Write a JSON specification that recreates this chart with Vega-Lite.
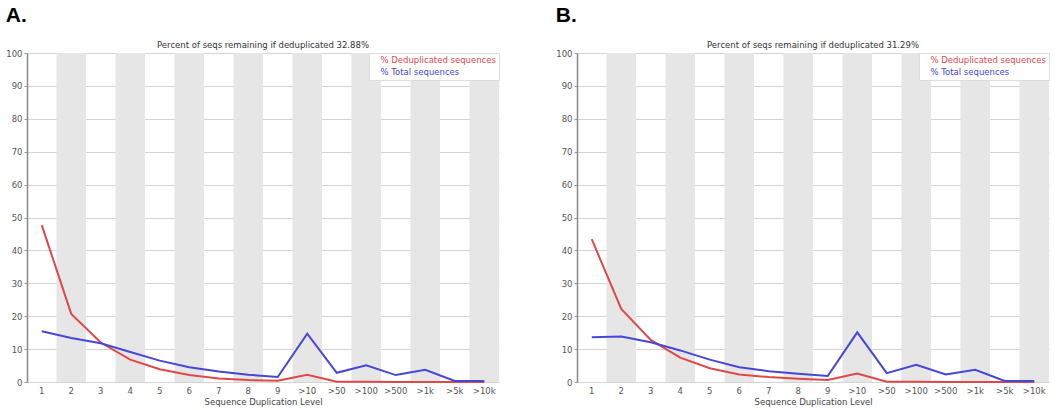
{
  "$schema": "https://vega.github.io/schema/vega-lite/v6.json",
  "background": "white",
  "padding": {"left": 5, "top": 4, "right": 5, "bottom": 2},
  "spacing": 55,
  "resolve": {"legend": {"color": "independent"}, "scale": {"color": "independent"}},
  "config": {
    "view": {"stroke": null},
    "font": "DejaVu Sans",
    "axisX": {"labelAngle": 0, "ticks": false, "domain": false, "labelPadding": 4, "labelColor": "#555", "labelFontSize": 8.5, "titleFontSize": 8.5, "titleFontWeight": "normal", "titlePadding": 3, "titleColor": "#444", "grid": false},
    "axisY": {"values": [0,10,20,30,40,50,60,70,80,90,100], "grid": true, "gridColor": "#d4d4d4", "domainColor": "#888", "domainWidth": 1.5, "tickSize": 3, "tickColor": "#999", "labelFontSize": 8.5, "labelColor": "#555", "labelPadding": 2, "title": null, "zindex": 1},
    "legend": {"orient": "top-right", "offset": 0, "fillColor": "white", "strokeColor": "#dddddd", "padding": 3, "labelFontSize": 8.5, "symbolSize": 0, "symbolStrokeWidth": 0, "symbolOpacity": 0, "labelOffset": 0, "rowPadding": 3, "title": null}
  },
  "hconcat": [
    {
      "title": {"text": "A.", "anchor": "start", "fontSize": 21, "font": "Liberation Sans", "fontWeight": "bold", "color": "black", "offset": 15},
      "resolve": {"legend": {"color": "independent"}, "scale": {"color": "independent"}},
      "hconcat": [
        {
          "width": 472,
          "height": 329,
          "title": {"text": "Percent of seqs remaining if deduplicated 32.88%", "fontSize": 8.5, "fontWeight": "normal", "color": "#333", "offset": 0, "anchor": "middle", "font": "DejaVu Sans"},
          "layer": [
            {
              "data": {"values": [{"level": "2"}, {"level": "4"}, {"level": "6"}, {"level": "8"}, {"level": ">10"}, {"level": ">100"}, {"level": ">1k"}, {"level": ">10k"}]},
              "mark": {"type": "bar", "color": "#e6e6e6"},
              "encoding": {
                "x": {"field": "level", "type": "ordinal", "sort": null, "scale": {"type": "band", "paddingInner": 0, "paddingOuter": 0, "domain": ["1","2","3","4","5","6","7","8","9",">10",">50",">100",">500",">1k",">5k",">10k"]}, "title": "Sequence Duplication Level"},
                "y": {"datum": 100, "type": "quantitative", "scale": {"domain": [0, 100], "nice": false}},
                "y2": {"datum": 0}
              }
            },
            {
              "data": {"values": [
                {"level": "1", "series": "% Deduplicated sequences", "value": 47.7},
                {"level": "2", "series": "% Deduplicated sequences", "value": 20.7},
                {"level": "3", "series": "% Deduplicated sequences", "value": 12.0},
                {"level": "4", "series": "% Deduplicated sequences", "value": 6.8},
                {"level": "5", "series": "% Deduplicated sequences", "value": 3.9},
                {"level": "6", "series": "% Deduplicated sequences", "value": 2.1},
                {"level": "7", "series": "% Deduplicated sequences", "value": 1.1},
                {"level": "8", "series": "% Deduplicated sequences", "value": 0.6},
                {"level": "9", "series": "% Deduplicated sequences", "value": 0.4},
                {"level": ">10", "series": "% Deduplicated sequences", "value": 2.2},
                {"level": ">50", "series": "% Deduplicated sequences", "value": 0.05},
                {"level": ">100", "series": "% Deduplicated sequences", "value": 0.05},
                {"level": ">500", "series": "% Deduplicated sequences", "value": 0.03},
                {"level": ">1k", "series": "% Deduplicated sequences", "value": 0.03},
                {"level": ">5k", "series": "% Deduplicated sequences", "value": 0.01},
                {"level": ">10k", "series": "% Deduplicated sequences", "value": 0.01},
                {"level": "1", "series": "% Total sequences", "value": 15.4},
                {"level": "2", "series": "% Total sequences", "value": 13.4},
                {"level": "3", "series": "% Total sequences", "value": 11.8},
                {"level": "4", "series": "% Total sequences", "value": 9.1},
                {"level": "5", "series": "% Total sequences", "value": 6.5},
                {"level": "6", "series": "% Total sequences", "value": 4.5},
                {"level": "7", "series": "% Total sequences", "value": 3.2},
                {"level": "8", "series": "% Total sequences", "value": 2.2},
                {"level": "9", "series": "% Total sequences", "value": 1.5},
                {"level": ">10", "series": "% Total sequences", "value": 14.7},
                {"level": ">50", "series": "% Total sequences", "value": 2.8},
                {"level": ">100", "series": "% Total sequences", "value": 5.1},
                {"level": ">500", "series": "% Total sequences", "value": 2.1},
                {"level": ">1k", "series": "% Total sequences", "value": 3.7},
                {"level": ">5k", "series": "% Total sequences", "value": 0.3},
                {"level": ">10k", "series": "% Total sequences", "value": 0.3}
              ]},
              "mark": {"type": "line", "strokeWidth": 2},
              "encoding": {
                "x": {"field": "level", "type": "ordinal", "sort": null},
                "y": {"field": "value", "type": "quantitative"},
                "color": {"field": "series", "type": "nominal", "scale": {"domain": ["% Deduplicated sequences", "% Total sequences"], "range": ["#e04848", "#4646d8"]},
                  "legend": {"encode": {"labels": {"update": {"fill": {"signal": "datum.value === '% Deduplicated sequences' ? '#e04848' : '#4646d8'"}}}}}}
              }
            }
          ]
        }
      ]
    },
    {
      "title": {"text": "B.", "anchor": "start", "fontSize": 21, "font": "Liberation Sans", "fontWeight": "bold", "color": "black", "offset": 15},
      "resolve": {"legend": {"color": "independent"}, "scale": {"color": "independent"}},
      "hconcat": [
        {
          "width": 472,
          "height": 329,
          "title": {"text": "Percent of seqs remaining if deduplicated 31.29%", "fontSize": 8.5, "fontWeight": "normal", "color": "#333", "offset": 0, "anchor": "middle", "font": "DejaVu Sans"},
          "layer": [
            {
              "data": {"values": [{"level": "2"}, {"level": "4"}, {"level": "6"}, {"level": "8"}, {"level": ">10"}, {"level": ">100"}, {"level": ">1k"}, {"level": ">10k"}]},
              "mark": {"type": "bar", "color": "#e6e6e6"},
              "encoding": {
                "x": {"field": "level", "type": "ordinal", "sort": null, "scale": {"type": "band", "paddingInner": 0, "paddingOuter": 0, "domain": ["1","2","3","4","5","6","7","8","9",">10",">50",">100",">500",">1k",">5k",">10k"]}, "title": "Sequence Duplication Level"},
                "y": {"datum": 100, "type": "quantitative", "scale": {"domain": [0, 100], "nice": false}},
                "y2": {"datum": 0}
              }
            },
            {
              "data": {"values": [
                {"level": "1", "series": "% Deduplicated sequences", "value": 43.4},
                {"level": "2", "series": "% Deduplicated sequences", "value": 22.2},
                {"level": "3", "series": "% Deduplicated sequences", "value": 12.8},
                {"level": "4", "series": "% Deduplicated sequences", "value": 7.4},
                {"level": "5", "series": "% Deduplicated sequences", "value": 4.2},
                {"level": "6", "series": "% Deduplicated sequences", "value": 2.3},
                {"level": "7", "series": "% Deduplicated sequences", "value": 1.5},
                {"level": "8", "series": "% Deduplicated sequences", "value": 1.0},
                {"level": "9", "series": "% Deduplicated sequences", "value": 0.6},
                {"level": ">10", "series": "% Deduplicated sequences", "value": 2.6},
                {"level": ">50", "series": "% Deduplicated sequences", "value": 0.05},
                {"level": ">100", "series": "% Deduplicated sequences", "value": 0.05},
                {"level": ">500", "series": "% Deduplicated sequences", "value": 0.03},
                {"level": ">1k", "series": "% Deduplicated sequences", "value": 0.03},
                {"level": ">5k", "series": "% Deduplicated sequences", "value": 0.01},
                {"level": ">10k", "series": "% Deduplicated sequences", "value": 0.01},
                {"level": "1", "series": "% Total sequences", "value": 13.6},
                {"level": "2", "series": "% Total sequences", "value": 13.8},
                {"level": "3", "series": "% Total sequences", "value": 12.1},
                {"level": "4", "series": "% Total sequences", "value": 9.6},
                {"level": "5", "series": "% Total sequences", "value": 6.8},
                {"level": "6", "series": "% Total sequences", "value": 4.5},
                {"level": "7", "series": "% Total sequences", "value": 3.3},
                {"level": "8", "series": "% Total sequences", "value": 2.5},
                {"level": "9", "series": "% Total sequences", "value": 1.8},
                {"level": ">10", "series": "% Total sequences", "value": 15.1},
                {"level": ">50", "series": "% Total sequences", "value": 2.7},
                {"level": ">100", "series": "% Total sequences", "value": 5.2},
                {"level": ">500", "series": "% Total sequences", "value": 2.3},
                {"level": ">1k", "series": "% Total sequences", "value": 3.7},
                {"level": ">5k", "series": "% Total sequences", "value": 0.3},
                {"level": ">10k", "series": "% Total sequences", "value": 0.3}
              ]},
              "mark": {"type": "line", "strokeWidth": 2},
              "encoding": {
                "x": {"field": "level", "type": "ordinal", "sort": null},
                "y": {"field": "value", "type": "quantitative"},
                "color": {"field": "series", "type": "nominal", "scale": {"domain": ["% Deduplicated sequences", "% Total sequences"], "range": ["#e04848", "#4646d8"]},
                  "legend": {"encode": {"labels": {"update": {"fill": {"signal": "datum.value === '% Deduplicated sequences' ? '#e04848' : '#4646d8'"}}}}}}
              }
            }
          ]
        }
      ]
    }
  ]
}
